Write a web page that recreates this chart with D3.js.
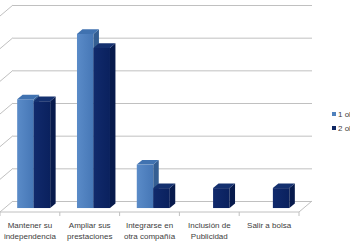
<!DOCTYPE html>
<html>
<head>
<meta charset="utf-8">
<script src="https://cdn.jsdelivr.net/npm/d3@7"></script>
<style>
  html, body { margin: 0; padding: 0; background: #fff; }
  svg { display: block; font-family: "Liberation Sans", Arial, sans-serif; }
</style>
</head>
<body>
<div id="chart"></div>
<script>
// data (value axis labels are cropped, so percent is a guess)
const categories = ["Mantener su\nindependencia", "Ampliar sus\nprestaciones", "Integrarse en\notra compañía", "Inclusión de\nPublicidad", "Salir a bolsa"];
const seriesNames = ["1 oleada", "2 oleada"];
const values1 = [33.3, 53.3, 13.3, 0, 0];
const values2 = [32.7, 49.0, 6.1, 6.1, 6.1];
const valueTicks = [0, 10, 20, 30, 40, 50, 60];

const width = 350, height = 250;
const svg = d3.select("#chart").append("svg")
    .attr("width", width)
    .attr("height", height);

// oblique 3d: front floor edge and depth vector
const frontY = 212, floorLeft = 0, floorRight = 299;
const depthX = 13, depthY = 11;
const backY = frontY - depthY;

const x0 = d3.scaleBand().domain(categories).range([floorLeft, floorRight]);
const x1 = d3.scaleBand().domain(seriesNames).range([12.5, 45.5]);
const yBack = d3.scaleLinear().domain([0, 60]).range([backY, 5]);
const h = v => backY - yBack(v);

const gridColor = "#c0c0c0";

// back wall gridlines
const grid = svg.append("g")
    .attr("transform", `translate(${floorLeft + depthX},0)`)
    .call(d3.axisLeft(yBack).tickValues(valueTicks).tickSize(-(floorRight - floorLeft)).tickFormat(""));
grid.select(".domain").remove();
grid.selectAll("line").attr("stroke", gridColor);

// side wall diagonals
svg.append("g").selectAll("line")
    .data(valueTicks)
    .join("line")
    .attr("x1", floorLeft + depthX).attr("y1", d => yBack(d))
    .attr("x2", floorLeft).attr("y2", d => yBack(d) + depthY)
    .attr("stroke", gridColor);

// floor outline
svg.append("path")
    .attr("d", `M${floorLeft},${frontY}L${floorRight},${frontY}L${floorRight + depthX},${backY}`)
    .attr("fill", "none")
    .attr("stroke", gridColor);

// category boundary ticks
svg.append("g").selectAll("line")
    .data(categories.concat([null]))
    .join("line")
    .attr("x1", d => d === null ? floorRight : x0(d))
    .attr("x2", d => d === null ? floorRight : x0(d))
    .attr("y1", frontY).attr("y2", frontY + 4)
    .attr("stroke", gridColor);

// category labels
const xAxis = svg.append("g")
    .attr("transform", `translate(0,${frontY})`)
    .call(d3.axisBottom(x0).tickSize(0).tickPadding(0));
xAxis.select(".domain").remove();
xAxis.selectAll("text")
    .attr("fill", "#404040")
    .attr("font-size", 8)
    .attr("font-family", "Liberation Sans, Arial, sans-serif")
    .attr("dy", null)
    .attr("y", 0)
    .text(null)
    .each(function(d) {
        const lines = d.split("\n");
        d3.select(this).selectAll("tspan")
            .data(lines)
            .join("tspan")
            .attr("x", 0)
            .attr("y", (l, i) => 16 + i * 11)
            .text(l => l);
    });

// gradients
const defs = svg.append("defs");
function grad(id, c1, c2) {
    const g = defs.append("linearGradient").attr("id", id)
        .attr("x1", 0).attr("x2", 1).attr("y1", 0).attr("y2", 0);
    g.append("stop").attr("offset", "0%").attr("stop-color", c1);
    g.append("stop").attr("offset", "100%").attr("stop-color", c2);
}
grad("front1", "#5a8bc8", "#4677b6");
grad("front2", "#112a6c", "#0a215e");

const colors = [
    { front: "url(#front1)", top: "#4072b0", side: "#345e92" },
    { front: "url(#front2)", top: "#14306f", side: "#071a4c" }
];

// bars sit partway into the depth
const barFront = 0.36, barDepth = 0.42;
const bx = barFront * depthX, by = barFront * depthY;
const sdx = barDepth * depthX, sdy = barDepth * depthY;
const bottom = frontY - by;

const bars = [];
categories.forEach((c, i) => {
    [values1[i], values2[i]].forEach((v, s) => {
        if (v > 0) bars.push({ cat: c, s: s, v: v });
    });
});

const barG = svg.append("g").selectAll("g")
    .data(bars)
    .join("g");

barG.each(function(d) {
    const g = d3.select(this);
    const xl = x0(d.cat) + x1(seriesNames[d.s]) + bx;
    const xr = xl + x1.bandwidth();
    const top = bottom - h(d.v);
    const col = colors[d.s];
    g.append("rect")
        .attr("x", xl).attr("y", top)
        .attr("width", xr - xl).attr("height", bottom - top)
        .attr("fill", col.front);
    g.append("path")
        .attr("d", `M${xr},${top}L${xr + sdx},${top - sdy}L${xr + sdx},${bottom - sdy}L${xr},${bottom}Z`)
        .attr("fill", col.side);
    g.append("path")
        .attr("d", `M${xl},${top}L${xl + sdx},${top - sdy}L${xr + sdx},${top - sdy}L${xr},${top}Z`)
        .attr("fill", col.top);
});

// legend (cut off at the right edge)
const legend = svg.append("g").selectAll("g")
    .data(seriesNames)
    .join("g")
    .attr("transform", (d, i) => `translate(332,${112 + i * 14})`);
legend.append("rect")
    .attr("width", 4).attr("height", 4)
    .attr("fill", (d, i) => i === 0 ? "#4f81bd" : "#0f2763");
legend.append("text")
    .attr("x", 6).attr("y", 5)
    .attr("font-size", 8)
    .attr("fill", "#404040")
    .text(d => d);
</script>
</body>
</html>
